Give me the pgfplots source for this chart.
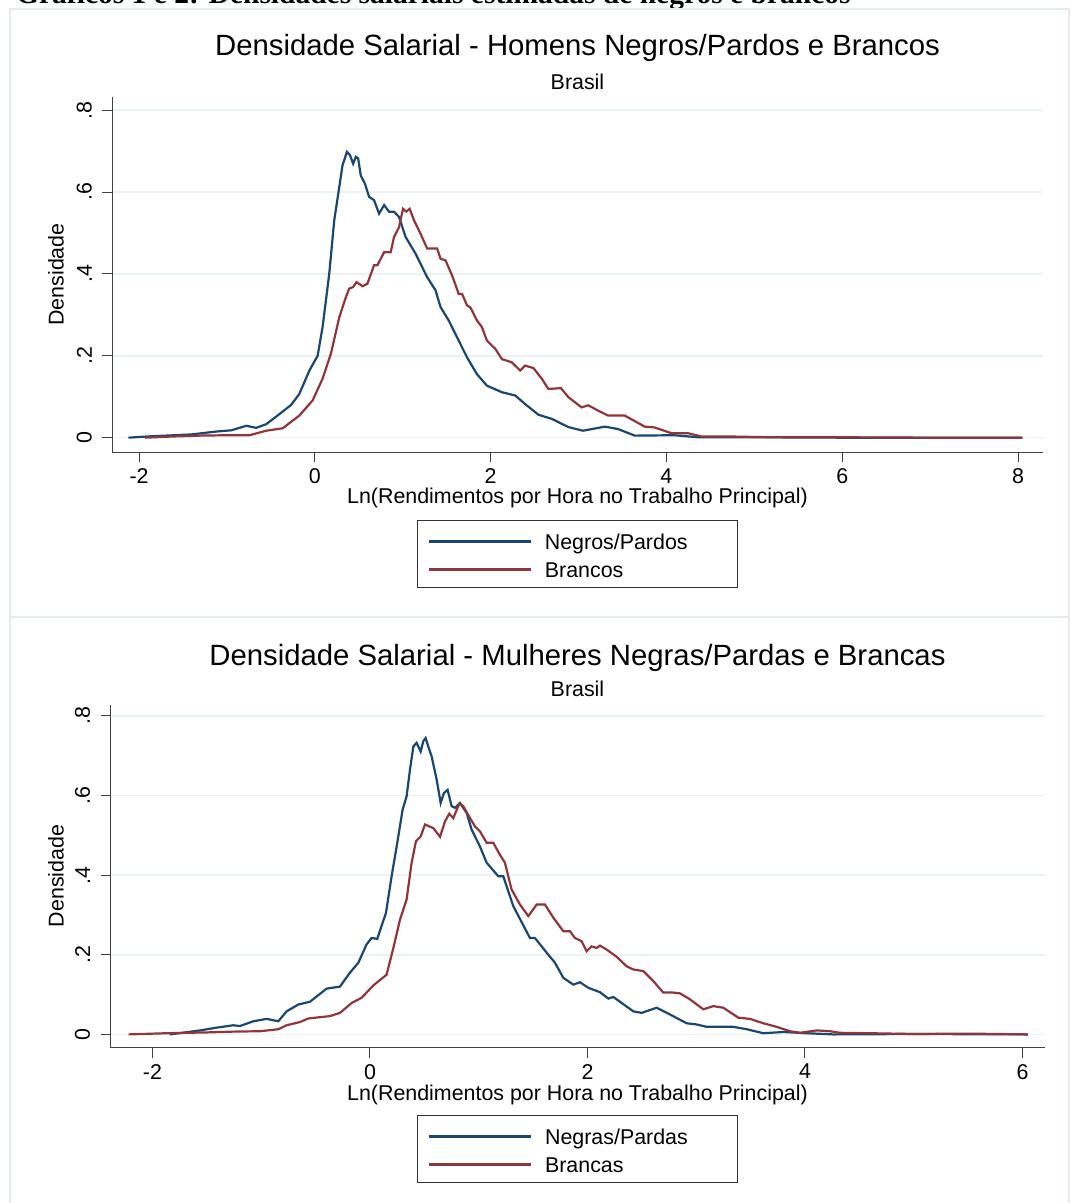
\documentclass[border=0pt]{standalone}
\usepackage{fontspec}
\setmainfont{Liberation Sans}
\newfontfamily\headfont{Liberation Serif}
\usepackage{pgfplots}
\pgfplotsset{compat=1.18}

\definecolor{stnavy}{RGB}{26,71,111}
\definecolor{stmaroon}{RGB}{144,53,59}
\definecolor{stgrid}{RGB}{234,242,243}
\definecolor{stframe}{RGB}{228,236,238}
\newcommand\fs[1]{\fontsize{#1}{#1}\selectfont}

\pgfplotsset{
  stata/.style={
    scale only axis, axis lines=left,
    axis line style={-, line width=1pt, black!75},
    tick align=outside, major tick length=10pt,
    tick style={line width=1pt, black!75},
    ymajorgrids, grid style={line width=1.6pt, stgrid},
    ytick={0,0.2,0.4,0.6,0.8}, yticklabels={0,.2,.4,.6,.8},
    yticklabel style={rotate=90, anchor=south, font=\fs{21.4}},
    yticklabel shift=7pt,
    xticklabel style={font=\fs{21.4}},
    xticklabel shift=3pt,
    legend cell align=left,
    legend image code/.code={\draw[##1] (0pt,-1.5pt) -- (102pt,-1.5pt);},
    legend style={anchor=north, draw=black!80, line width=0.9pt,
      inner xsep=10pt, inner ysep=9.5pt, row sep=8pt, column sep=13pt,
      font=\fs{21.4}, nodes={inner sep=0pt, text height=19.2pt, text depth=0.8pt}},
  },
  navyline/.style={stnavy, line width=2.2pt},
  maroonline/.style={stmaroon, line width=2.2pt},
}

\begin{document}
\begin{tikzpicture}
\clip (0pt,0pt) rectangle (1070pt,-1203pt);
\node[anchor=base west, inner sep=0pt, font=\headfont\bfseries\fs{29.5}] at (16pt,-3pt)
  {Gráficos 1 e 2: Densidades salariais estimadas de negros e brancos};
\draw[stframe, line width=1.5pt] (10pt,-9pt) rectangle (1069pt,-617pt);
\draw[stframe, line width=1.5pt] (10pt,-617pt) rectangle (1069pt,-1215pt);

%% Graph 1: homens
\begin{axis}[stata, at={(112.3pt,-452pt)}, anchor=south west,
  width=930.7pt, height=355pt,
  xmin=-2.304, xmax=8.284, ymin=-0.035, ymax=0.832,
  xtick={-2,0,2,4,6,8}, xticklabels={-2,0,2,4,6,8},
  legend style={at={(0.5,-0.1915)}}]
\addplot[navyline] coordinates {
 (-2.12,0.000) (-1.9,0.003) (-1.6,0.006) (-1.4,0.008) (-1.12,0.015) (-0.95,0.018)
 (-0.78,0.029) (-0.667,0.024) (-0.553,0.033) (-0.40,0.058) (-0.27,0.080) (-0.176,0.107)
 (-0.062,0.164) (0.032,0.200) (0.088,0.27) (0.164,0.40) (0.221,0.531) (0.278,0.612)
 (0.315,0.665) (0.365,0.698) (0.40,0.690) (0.436,0.669) (0.467,0.686) (0.493,0.682)
 (0.523,0.640) (0.569,0.621) (0.618,0.588) (0.674,0.580) (0.731,0.547) (0.788,0.568)
 (0.844,0.552) (0.901,0.552) (0.958,0.539) (1.033,0.490) (1.147,0.449) (1.278,0.392)
 (1.373,0.360) (1.430,0.319) (1.524,0.286) (1.637,0.237) (1.732,0.196) (1.845,0.155)
 (1.958,0.127) (2.128,0.111) (2.28,0.103) (2.393,0.082) (2.544,0.056) (2.695,0.046)
 (2.884,0.026) (3.05,0.017) (3.30,0.027) (3.45,0.021) (3.64,0.005) (4.09,0.006)
 (4.36,0.001) (5.0,0.001) (6.0,0.000) (7.0,0.000) (8.05,0.000)};
\addlegendentry{Negros/Pardos\hspace*{40pt}}
\addplot[maroonline] coordinates {
 (-1.93,0.000) (-1.6,0.003) (-1.31,0.005) (-1.0,0.006) (-0.742,0.006) (-0.553,0.017)
 (-0.365,0.023) (-0.176,0.054) (-0.025,0.091) (0.088,0.144) (0.183,0.205) (0.278,0.294)
 (0.353,0.343) (0.391,0.364) (0.436,0.368) (0.474,0.380) (0.542,0.370) (0.598,0.376)
 (0.674,0.421) (0.712,0.421) (0.788,0.453) (0.863,0.453) (0.901,0.490) (0.958,0.514)
 (1.003,0.559) (1.040,0.552) (1.079,0.559) (1.128,0.531) (1.203,0.498) (1.278,0.462)
 (1.391,0.462) (1.430,0.437) (1.487,0.433) (1.562,0.396) (1.637,0.351) (1.675,0.351)
 (1.732,0.323) (1.77,0.318) (1.845,0.286) (1.901,0.270) (1.958,0.237) (2.053,0.217)
 (2.128,0.192) (2.241,0.184) (2.336,0.164) (2.393,0.176) (2.487,0.170) (2.582,0.144)
 (2.657,0.119) (2.80,0.121) (2.884,0.099) (3.035,0.074) (3.111,0.079) (3.224,0.066)
 (3.337,0.054) (3.526,0.054) (3.752,0.027) (3.865,0.025) (4.056,0.011) (4.244,0.011)
 (4.395,0.003) (4.70,0.003) (5.2,0.001) (6.0,0.001) (7.0,0.000) (8.05,0.000)};
\addlegendentry{Brancos}
\end{axis}

%% Graph 2: mulheres
\begin{axis}[stata, at={(110.7pt,-1047.7pt)}, anchor=south west,
  width=934.3pt, height=342.7pt,
  xmin=-2.384, xmax=6.207, ymin=-0.0334, ymax=0.827,
  xtick={-2,0,2,4,6}, xticklabels={-2,0,2,4,6},
  legend style={at={(0.5,-0.1964)}}]
\addplot[navyline] coordinates {
 (-1.84,0.000) (-1.563,0.010) (-1.41,0.017) (-1.257,0.023) (-1.196,0.021) (-1.073,0.033)
 (-0.95,0.039) (-0.843,0.033) (-0.766,0.058) (-0.659,0.075) (-0.552,0.082) (-0.398,0.115)
 (-0.276,0.120) (-0.184,0.155) (-0.107,0.180) (-0.031,0.226) (0.015,0.242) (0.067,0.240)
 (0.147,0.305) (0.199,0.397) (0.251,0.481) (0.30,0.564) (0.337,0.598) (0.368,0.665)
 (0.399,0.723) (0.429,0.732) (0.466,0.710) (0.49,0.736) (0.512,0.744) (0.536,0.723)
 (0.567,0.698) (0.613,0.640) (0.65,0.581) (0.680,0.606) (0.714,0.614) (0.751,0.573)
 (0.782,0.569) (0.828,0.581) (0.889,0.556) (0.935,0.514) (1.011,0.472) (1.073,0.431)
 (1.18,0.397) (1.226,0.397) (1.318,0.322) (1.379,0.290) (1.471,0.242) (1.517,0.242)
 (1.625,0.205) (1.701,0.180) (1.778,0.142) (1.870,0.125) (1.931,0.131) (2.008,0.117)
 (2.115,0.106) (2.192,0.090) (2.238,0.094) (2.314,0.079) (2.421,0.058) (2.498,0.054)
 (2.636,0.067) (2.759,0.050) (2.912,0.028) (3.004,0.025) (3.096,0.019) (3.341,0.019)
 (3.464,0.013) (3.617,0.003) (3.801,0.006) (4.015,0.003) (4.26,0.000) (5.0,0.001)
 (6.05,0.000)};
\addlegendentry{Negras/Pardas\hspace*{40pt}}
\addplot[maroonline] coordinates {
 (-2.22,0.000) (-1.87,0.003) (-1.5,0.005) (-1.257,0.007) (-1.01,0.008) (-0.843,0.013)
 (-0.766,0.023) (-0.644,0.031) (-0.567,0.040) (-0.368,0.046) (-0.276,0.054) (-0.168,0.079)
 (-0.077,0.092) (0.031,0.123) (0.153,0.150) (0.215,0.217) (0.276,0.288) (0.337,0.339)
 (0.383,0.431) (0.423,0.485) (0.466,0.497) (0.506,0.527) (0.582,0.518) (0.644,0.496)
 (0.690,0.535) (0.729,0.554) (0.766,0.543) (0.821,0.579) (0.858,0.573) (0.920,0.543)
 (0.966,0.522) (1.011,0.510) (1.073,0.481) (1.134,0.481) (1.195,0.451) (1.241,0.431)
 (1.302,0.364) (1.379,0.326) (1.456,0.297) (1.533,0.326) (1.609,0.326) (1.686,0.293)
 (1.778,0.259) (1.839,0.259) (1.885,0.242) (1.946,0.234) (1.992,0.209) (2.038,0.221)
 (2.084,0.217) (2.115,0.223) (2.176,0.213) (2.268,0.195) (2.360,0.171) (2.421,0.163)
 (2.513,0.159) (2.605,0.134) (2.697,0.105) (2.789,0.105) (2.851,0.103) (2.943,0.088)
 (3.065,0.063) (3.157,0.071) (3.249,0.067) (3.387,0.042) (3.494,0.039) (3.617,0.028)
 (3.740,0.019) (3.862,0.008) (3.954,0.004) (4.107,0.010) (4.23,0.008) (4.322,0.004)
 (4.6,0.003) (5.0,0.001) (5.5,0.002) (6.05,0.000)};
\addlegendentry{Brancas}
\end{axis}

%% titles and axis titles
\node[anchor=base, inner sep=0pt, font=\fs{29.3}] at (577.5pt,-55pt)
  {Densidade Salarial - Homens Negros/Pardos e Brancos};
\node[anchor=base, inner sep=0pt, font=\fs{21.4}] at (577.5pt,-89pt) {Brasil};
\node[anchor=base, inner sep=0pt, font=\fs{21.4}] at (577.5pt,-503pt)
  {Ln(Rendimentos por Hora no Trabalho Principal)};
\node[rotate=90, inner sep=0pt, font=\fs{21.4}] at (56pt,-274.5pt) {Densidade};

\node[anchor=base, inner sep=0pt, font=\fs{29.3}] at (577.5pt,-665pt)
  {Densidade Salarial - Mulheres Negras/Pardas e Brancas};
\node[anchor=base, inner sep=0pt, font=\fs{21.4}] at (577.5pt,-696pt) {Brasil};
\node[anchor=base, inner sep=0pt, font=\fs{21.4}] at (577.5pt,-1100pt)
  {Ln(Rendimentos por Hora no Trabalho Principal)};
\node[rotate=90, inner sep=0pt, font=\fs{21.4}] at (56pt,-876pt) {Densidade};
\end{tikzpicture}
\end{document}
